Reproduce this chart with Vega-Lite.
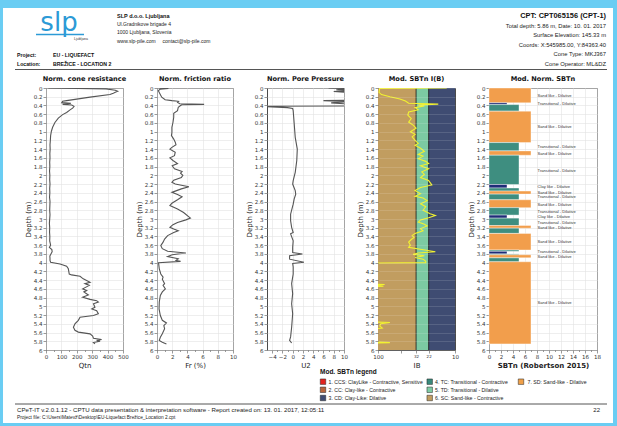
{
"$schema": "https://vega.github.io/schema/vega-lite/v6.json",
"background": "#6acdf3",
"padding": {"left": 3, "top": 4, "right": 4, "bottom": 7},
"spacing": 14,
"bounds": "flush",
"resolve": {"scale": {"color": "independent", "fill": "independent"}},
"config": {
  "font": "DejaVu Sans",
  "view": {"stroke": "#4a4a4a", "strokeWidth": 1},
  "axis": {"labelFontSize": 5.5, "labelColor": "#333", "titleFontSize": 7, "titleFontWeight": "normal", "titleColor": "#222", "gridColor": "#e2e2e2", "gridWidth": 0.6, "tickColor": "#555", "tickSize": 3, "tickWidth": 0.6, "domain": false, "labelPadding": 1, "titlePadding": 2, "labelOverlap": false, "labelFont": "DejaVu Sans", "titleFont": "DejaVu Sans"},
  "axisX": {"labelFlush": false},
  "title": {"fontSize": 6.6, "font": "DejaVu Sans", "fontWeight": "bold", "offset": 3, "color": "#111"}
},
"datasets": {
  "page": [{"px": 3, "px2": 613, "py": 4, "py2": 419}],
  "rules": [{"px": 15, "px2": 607, "py": 65.5}, {"px": 15, "px2": 607, "py": 400}],
  "logoRule": [{"px": 36, "px2": 84, "py": 30.5}],
  "logo": [{"px": 59, "py": 27, "t": "slp"}],
  "logoSub": [{"px": 88, "py": 34.5, "t": "Ljubljana"}],
  "hdrBold": [{"px": 117, "py": 11.7, "t": "SLP d.o.o. Ljubljana"}],
  "hdrAddr": [{"px": 117, "py": 19.5, "t": "Ul.Gradnikove brigade 4"}, {"px": 117, "py": 28.3, "t": "1000 Ljubljana, Slovenia"}, {"px": 117, "py": 36.7, "t": "www.slp-pile.com\u00a0\u00a0\u00a0\u00a0\u00a0contact@slp-pile.com"}],
  "hdrProj": [{"px": 17, "py": 50.5, "t": "Project:"}, {"px": 53, "py": 50.5, "t": "EU - LIQUEFACT"}, {"px": 17, "py": 60, "t": "Location:"}, {"px": 53, "py": 60, "t": "BREŽICE - LOCATION 2"}],
  "hdrCpt": [{"px": 606, "py": 11.7, "t": "CPT: CPT065156 (CPT-1)"}],
  "hdrRight": [{"px": 606, "py": 22, "t": "Total depth: 5.86 m, Date: 10. 01. 2017"}, {"px": 606, "py": 31, "t": "Surface Elevation: 145.33 m"}, {"px": 606, "py": 40.5, "t": "Coords: X:545985.00, Y:84363.40"}, {"px": 606, "py": 50, "t": "Cone Type: MKJ367"}, {"px": 606, "py": 59.5, "t": "Cone Operator: ML&DZ"}],
  "legTitle": [{"px": 320, "py": 367.5, "t": "Mod. SBTn legend"}],
  "legSq": [{"px": 323, "py": 377.7, "c": "1"}, {"px": 323, "py": 385.8, "c": "2"}, {"px": 323, "py": 394, "c": "3"}, {"px": 429.7, "py": 377.7, "c": "4"}, {"px": 429.7, "py": 385.8, "c": "5"}, {"px": 429.7, "py": 394, "c": "6"}, {"px": 521, "py": 377.7, "c": "7"}],
  "legTxt": [{"px": 328.5, "py": 377.7, "t": "1. CCS: ClayLike - Contractive, Sensitive"}, {"px": 328.5, "py": 385.8, "t": "2. CC: Clay-like - Contractive"}, {"px": 328.5, "py": 394, "t": "3. CD: Clay-Like: Dilative"}, {"px": 435, "py": 377.7, "t": "4. TC: Transitional - Contractive"}, {"px": 435, "py": 385.8, "t": "5. TD: Transitional - Dilative"}, {"px": 435, "py": 394, "t": "6. SC: Sand-like - Contractive"}, {"px": 527.5, "py": 377.7, "t": "7. SD: Sand-like - Dilative"}],
  "foot1": [{"px": 17, "py": 405.5, "t": "CPeT-IT v.2.0.1.12 - CPTU data presentation & interpretation software - Report created on: 13. 01. 2017, 12:05:11"}],
  "foot2": [{"px": 17, "py": 413.5, "t": "Project file: C:\\Users\\Matevž\\Desktop\\EU-Liquefact Brežice_Location 2.cpt"}],
  "pageNo": [{"px": 600, "py": 405.5, "t": "22"}],
  "qtn": [{"d":0,"v":15},{"d":0.02,"v":390},{"d":0.05,"v":450},{"d":0.076,"v":466},{"d":0.1,"v":450},{"d":0.12,"v":437},{"d":0.15,"v":415},{"d":0.21,"v":286},{"d":0.29,"v":134},{"d":0.305,"v":108},{"d":0.336,"v":102},{"d":0.351,"v":162},{"d":0.374,"v":108},{"d":0.389,"v":167},{"d":0.42,"v":182},{"d":0.46,"v":173},{"d":0.5,"v":156},{"d":0.56,"v":134},{"d":0.61,"v":108},{"d":0.69,"v":80},{"d":0.79,"v":58},{"d":0.9,"v":43},{"d":0.99,"v":35},{"d":1.09,"v":30},{"d":1.21,"v":28},{"d":1.3,"v":26},{"d":1.4,"v":27},{"d":1.5,"v":25},{"d":1.6,"v":26},{"d":1.7,"v":24},{"d":1.8,"v":25},{"d":1.9,"v":23},{"d":2.0,"v":25},{"d":2.1,"v":24},{"d":2.2,"v":26},{"d":2.3,"v":24},{"d":2.4,"v":25},{"d":2.5,"v":23},{"d":2.6,"v":26},{"d":2.7,"v":25},{"d":2.8,"v":24},{"d":2.9,"v":26},{"d":3.0,"v":24},{"d":3.1,"v":22},{"d":3.2,"v":24},{"d":3.3,"v":23},{"d":3.4,"v":25},{"d":3.5,"v":24},{"d":3.6,"v":30},{"d":3.65,"v":22},{"d":3.7,"v":38},{"d":3.75,"v":40},{"d":3.8,"v":32},{"d":3.85,"v":25},{"d":3.9,"v":26},{"d":3.95,"v":26},{"d":3.99,"v":30},{"d":4.03,"v":91},{"d":4.08,"v":134},{"d":4.14,"v":145},{"d":4.26,"v":151},{"d":4.28,"v":166},{"d":4.31,"v":221},{"d":4.37,"v":242},{"d":4.45,"v":286},{"d":4.48,"v":253},{"d":4.52,"v":281},{"d":4.6,"v":238},{"d":4.64,"v":264},{"d":4.67,"v":246},{"d":4.74,"v":275},{"d":4.79,"v":238},{"d":4.84,"v":286},{"d":4.87,"v":329},{"d":4.9,"v":340},{"d":4.94,"v":308},{"d":5.02,"v":318},{"d":5.06,"v":297},{"d":5.1,"v":329},{"d":5.17,"v":340},{"d":5.21,"v":308},{"d":5.25,"v":221},{"d":5.32,"v":210},{"d":5.4,"v":188},{"d":5.48,"v":178},{"d":5.55,"v":188},{"d":5.59,"v":210},{"d":5.63,"v":286},{"d":5.68,"v":303},{"d":5.73,"v":308},{"d":5.76,"v":361},{"d":5.78,"v":329},{"d":5.8,"v":351},{"d":5.83,"v":308},{"d":5.86,"v":318}],
  "fr": [{"d":0,"v":0.3},{"d":0.01,"v":1.5},{"d":0.03,"v":0.4},{"d":0.06,"v":0.18},{"d":0.14,"v":0.4},{"d":0.21,"v":0.62},{"d":0.27,"v":1.07},{"d":0.29,"v":1.96},{"d":0.305,"v":2.84},{"d":0.33,"v":2.7},{"d":0.36,"v":3.0},{"d":0.375,"v":6.2},{"d":0.385,"v":3.3},{"d":0.4,"v":3.1},{"d":0.44,"v":2.8},{"d":0.52,"v":2.7},{"d":0.58,"v":2.2},{"d":0.67,"v":2.2},{"d":0.79,"v":2.1},{"d":0.9,"v":1.96},{"d":1.02,"v":1.96},{"d":1.09,"v":1.9},{"d":1.17,"v":2.2},{"d":1.24,"v":2.4},{"d":1.3,"v":2.5},{"d":1.36,"v":1.96},{"d":1.4,"v":1.7},{"d":1.47,"v":2.4},{"d":1.55,"v":2.3},{"d":1.6,"v":1.7},{"d":1.66,"v":2.1},{"d":1.73,"v":2.7},{"d":1.78,"v":2.0},{"d":1.85,"v":2.3},{"d":1.91,"v":3.3},{"d":1.95,"v":3.1},{"d":2.0,"v":3.4},{"d":2.05,"v":3.2},{"d":2.11,"v":2.2},{"d":2.16,"v":1.96},{"d":2.2,"v":2.4},{"d":2.26,"v":4.2},{"d":2.31,"v":3.2},{"d":2.39,"v":1.96},{"d":2.44,"v":2.7},{"d":2.49,"v":3.3},{"d":2.56,"v":2.7},{"d":2.64,"v":1.96},{"d":2.69,"v":1.7},{"d":2.77,"v":2.7},{"d":2.85,"v":3.5},{"d":2.95,"v":4.2},{"d":2.98,"v":4.4},{"d":3.02,"v":3.8},{"d":3.08,"v":2.7},{"d":3.13,"v":2.1},{"d":3.19,"v":1.7},{"d":3.23,"v":2.2},{"d":3.27,"v":2.8},{"d":3.31,"v":2.2},{"d":3.38,"v":1.4},{"d":3.46,"v":1.0},{"d":3.53,"v":0.8},{"d":3.61,"v":0.5},{"d":3.68,"v":0.7},{"d":3.74,"v":1.4},{"d":3.78,"v":3.8},{"d":3.82,"v":2.0},{"d":3.86,"v":1.4},{"d":3.91,"v":2.8},{"d":3.95,"v":2.5},{"d":3.97,"v":3.1},{"d":4.0,"v":0.2},{"d":4.14,"v":0.3},{"d":4.26,"v":0.5},{"d":4.33,"v":0.8},{"d":4.38,"v":0.7},{"d":4.48,"v":1.0},{"d":4.52,"v":0.8},{"d":4.6,"v":1.1},{"d":4.67,"v":0.7},{"d":4.75,"v":0.44},{"d":4.9,"v":0.3},{"d":5.06,"v":0.27},{"d":5.21,"v":0.44},{"d":5.32,"v":0.7},{"d":5.38,"v":1.24},{"d":5.44,"v":0.9},{"d":5.51,"v":1.0},{"d":5.63,"v":0.7},{"d":5.71,"v":0.44},{"d":5.78,"v":0.3},{"d":5.82,"v":0.7},{"d":5.86,"v":1.24}],
  "u2": [{"d":0,"v":7},{"d":0.015,"v":11},{"d":0.04,"v":8.5},{"d":0.06,"v":11},{"d":0.08,"v":8},{"d":0.1,"v":11},{"d":0.28,"v":11},{"d":0.29,"v":6},{"d":0.31,"v":11},{"d":0.34,"v":7.5},{"d":0.37,"v":11},{"d":0.41,"v":11},{"d":0.42,"v":-6},{"d":0.45,"v":-1},{"d":0.47,"v":0},{"d":0.52,"v":0.1},{"d":0.82,"v":0.3},{"d":1.13,"v":0.5},{"d":1.4,"v":0.9},{"d":1.66,"v":0.8},{"d":1.93,"v":0.5},{"d":2.12,"v":0.1},{"d":2.2,"v":0},{"d":2.35,"v":0.5},{"d":2.43,"v":0.6},{"d":2.54,"v":0.3},{"d":2.66,"v":0.1},{"d":2.89,"v":-0.4},{"d":3.04,"v":-0.4},{"d":3.19,"v":-0.2},{"d":3.31,"v":0.1},{"d":3.34,"v":-0.4},{"d":3.5,"v":0.1},{"d":3.65,"v":0},{"d":3.77,"v":0},{"d":3.8,"v":1.9},{"d":3.84,"v":-0.6},{"d":3.92,"v":-0.6},{"d":3.99,"v":2.2},{"d":4.02,"v":0},{"d":4.1,"v":0.1},{"d":4.26,"v":0.1},{"d":4.48,"v":-0.2},{"d":4.71,"v":0},{"d":4.94,"v":-0.2},{"d":5.17,"v":0},{"d":5.48,"v":-0.2},{"d":5.7,"v":-0.4},{"d":5.78,"v":-0.6},{"d":5.84,"v":-0.2}],
  "ib": [{"d":0,"v":12.8},{"d":0.01,"v":95},{"d":0.1,"v":97},{"d":0.15,"v":90},{"d":0.2,"v":70},{"d":0.25,"v":52},{"d":0.3,"v":44},{"d":0.35,"v":40},{"d":0.37,"v":16.5},{"d":0.39,"v":30},{"d":0.41,"v":25},{"d":0.45,"v":33},{"d":0.5,"v":30},{"d":0.55,"v":40},{"d":0.62,"v":41},{"d":0.7,"v":37},{"d":0.78,"v":40},{"d":0.85,"v":35},{"d":0.92,"v":32},{"d":1.0,"v":38},{"d":1.06,"v":33},{"d":1.12,"v":36},{"d":1.2,"v":33},{"d":1.27,"v":30},{"d":1.31,"v":33},{"d":1.38,"v":28},{"d":1.45,"v":25},{"d":1.52,"v":30},{"d":1.56,"v":26},{"d":1.62,"v":30},{"d":1.68,"v":24},{"d":1.73,"v":22},{"d":1.78,"v":28},{"d":1.85,"v":22},{"d":1.92,"v":27},{"d":1.98,"v":25},{"d":2.05,"v":28},{"d":2.12,"v":22},{"d":2.22,"v":20},{"d":2.28,"v":28},{"d":2.35,"v":33},{"d":2.42,"v":28},{"d":2.48,"v":33},{"d":2.52,"v":26},{"d":2.58,"v":23},{"d":2.65,"v":28},{"d":2.72,"v":24},{"d":2.8,"v":26},{"d":2.88,"v":21},{"d":2.92,"v":18},{"d":2.97,"v":22},{"d":3.02,"v":28},{"d":3.07,"v":30},{"d":3.12,"v":25},{"d":3.16,"v":23},{"d":3.22,"v":28},{"d":3.27,"v":26},{"d":3.33,"v":33},{"d":3.38,"v":36},{"d":3.42,"v":34},{"d":3.47,"v":37},{"d":3.53,"v":40},{"d":3.6,"v":38},{"d":3.65,"v":40},{"d":3.7,"v":27},{"d":3.75,"v":18},{"d":3.78,"v":30},{"d":3.81,"v":35},{"d":3.84,"v":25},{"d":3.88,"v":33},{"d":3.92,"v":26},{"d":3.97,"v":24},{"d":4.0,"v":24},{"d":4.01,"v":150},{"d":4.48,"v":150},{"d":4.5,"v":82},{"d":4.52,"v":120},{"d":4.54,"v":85},{"d":4.56,"v":150},{"d":5.35,"v":150},{"d":5.37,"v":70},{"d":5.4,"v":92},{"d":5.45,"v":95},{"d":5.5,"v":88},{"d":5.53,"v":150},{"d":5.81,"v":150},{"d":5.83,"v":70},{"d":5.85,"v":150}],
  "zones": [{"v": 100, "v2": 32, "z": "SC"}, {"v": 32, "v2": 22, "z": "TD"}, {"v": 22, "v2": 10, "z": "CD"}],
  "bounds": [{"v": 32}, {"v": 22}],
  "sbt": [{"d0":0,"d1":0.34,"v":7,"z":"SD"},{"d0":0.34,"d1":0.38,"v":3,"z":"CD"},{"d0":0.38,"d1":0.53,"v":5,"z":"TD"},{"d0":0.53,"d1":1.25,"v":7,"z":"SD"},{"d0":1.25,"d1":1.44,"v":5,"z":"TD"},{"d0":1.44,"d1":1.54,"v":7,"z":"SD"},{"d0":1.54,"d1":2.21,"v":5,"z":"TD"},{"d0":2.21,"d1":2.29,"v":3,"z":"CD"},{"d0":2.29,"d1":2.36,"v":5,"z":"TD"},{"d0":2.36,"d1":2.43,"v":7,"z":"SD"},{"d0":2.43,"d1":2.56,"v":5,"z":"TD"},{"d0":2.56,"d1":2.74,"v":7,"z":"SD"},{"d0":2.74,"d1":2.91,"v":5,"z":"TD"},{"d0":2.91,"d1":2.98,"v":3,"z":"CD"},{"d0":2.98,"d1":3.15,"v":5,"z":"TD"},{"d0":3.15,"d1":3.21,"v":7,"z":"SD"},{"d0":3.21,"d1":3.33,"v":5,"z":"TD"},{"d0":3.33,"d1":3.71,"v":7,"z":"SD"},{"d0":3.71,"d1":3.74,"v":5,"z":"TD"},{"d0":3.74,"d1":3.8,"v":3,"z":"CD"},{"d0":3.8,"d1":3.82,"v":5,"z":"TD"},{"d0":3.82,"d1":3.89,"v":7,"z":"SD"},{"d0":3.89,"d1":3.98,"v":5,"z":"TD"},{"d0":3.98,"d1":5.86,"v":7,"z":"SD"}],
  "sbtLab": [{"d0":0.19,"t":"Sand like - Dilative"},{"d0":0.37,"t":"Transitional - Dilative"},{"d0":0.9,"t":"Sand like - Dilative"},{"d0":1.36,"t":"Transitional - Dilative"},{"d0":1.5,"t":"Sand like - Dilative"},{"d0":1.9,"t":"Transitional - Dilative"},{"d0":2.27,"t":"Clay like - Dilative"},{"d0":2.4,"t":"Sand like - Dilative"},{"d0":2.5,"t":"Transitional - Dilative"},{"d0":2.67,"t":"Sand like - Dilative"},{"d0":2.83,"t":"Transitional - Dilative"},{"d0":2.95,"t":"Clay like - Dilative"},{"d0":3.09,"t":"Transitional - Dilative"},{"d0":3.2,"t":"Sand like - Dilative"},{"d0":3.53,"t":"Sand like - Dilative"},{"d0":3.75,"t":"Transitional - Dilative"},{"d0":3.88,"t":"Sand like - Dilative"},{"d0":4.93,"t":"Sand like - Dilative"}]
},
"vconcat": [
  {
    "width": 551, "height": 70,
    "view": {"stroke": null},
    "encoding": {
      "x": {"field": "px", "type": "quantitative", "scale": {"domain": [46, 597], "nice": false, "zero": false}, "axis": null},
      "y": {"field": "py", "type": "quantitative", "scale": {"domain": [0, 70], "nice": false, "zero": false, "reverse": true}, "axis": null}
    },
    "layer": [
      {"data": {"name": "page"}, "mark": {"type": "rect", "fill": "white"}, "encoding": {"x2": {"field": "px2"}, "y2": {"field": "py2"}}},
      {"data": {"name": "rules"}, "mark": {"type": "rule", "color": "#555", "strokeWidth": 1}, "encoding": {"x2": {"field": "px2"}}},
      {"data": {"name": "logoRule"}, "mark": {"type": "rule", "color": "#2c9ad6", "strokeWidth": 1.5}, "encoding": {"x2": {"field": "px2"}}},
      {"data": {"name": "logo"}, "mark": {"type": "text", "align": "center", "baseline": "alphabetic", "font": "DejaVu Sans", "fontSize": 26, "color": "#2c9ad6"}, "encoding": {"text": {"field": "t"}}},
      {"data": {"name": "logoSub"}, "mark": {"type": "text", "align": "right", "baseline": "middle", "font": "Liberation Sans", "fontSize": 3.5, "color": "#333"}, "encoding": {"text": {"field": "t"}}},
      {"data": {"name": "hdrBold"}, "mark": {"type": "text", "align": "left", "baseline": "middle", "font": "Liberation Sans", "fontSize": 5.5, "fontWeight": "bold", "color": "#111"}, "encoding": {"text": {"field": "t"}}},
      {"data": {"name": "hdrAddr"}, "mark": {"type": "text", "align": "left", "baseline": "middle", "font": "Liberation Sans", "fontSize": 5, "color": "#222"}, "encoding": {"text": {"field": "t"}}},
      {"data": {"name": "hdrProj"}, "mark": {"type": "text", "align": "left", "baseline": "middle", "font": "Liberation Sans", "fontSize": 5.2, "fontWeight": "bold", "color": "#111"}, "encoding": {"text": {"field": "t"}}},
      {"data": {"name": "hdrCpt"}, "mark": {"type": "text", "align": "right", "baseline": "middle", "font": "Liberation Sans", "fontSize": 7.4, "fontWeight": "bold", "color": "#111"}, "encoding": {"text": {"field": "t"}}},
      {"data": {"name": "hdrRight"}, "mark": {"type": "text", "align": "right", "baseline": "middle", "font": "Liberation Sans", "fontSize": 5.8, "color": "#222"}, "encoding": {"text": {"field": "t"}}},
      {"data": {"name": "legTitle"}, "mark": {"type": "text", "align": "left", "baseline": "middle", "font": "Liberation Sans", "fontSize": 6.5, "fontWeight": "bold", "color": "#111"}, "encoding": {"text": {"field": "t"}}},
      {"data": {"name": "legSq"}, "mark": {"type": "square", "size": 30, "opacity": 1, "stroke": "#222", "strokeWidth": 0.5}, "encoding": {"fill": {"field": "c", "type": "nominal", "scale": {"domain": ["1","2","3","4","5","6","7"], "range": ["#e3231d", "#b8643a", "#3f4c72", "#3a8a7c", "#7fcca5", "#c19d60", "#f0a048"]}, "legend": null}}},
      {"data": {"name": "legTxt"}, "mark": {"type": "text", "align": "left", "baseline": "middle", "font": "Liberation Sans", "fontSize": 5.2, "color": "#222"}, "encoding": {"text": {"field": "t"}}},
      {"data": {"name": "foot1"}, "mark": {"type": "text", "align": "left", "baseline": "middle", "font": "Liberation Sans", "fontSize": 6.1, "color": "#222"}, "encoding": {"text": {"field": "t"}}},
      {"data": {"name": "foot2"}, "mark": {"type": "text", "align": "left", "baseline": "middle", "font": "Liberation Sans", "fontSize": 4.8, "color": "#222"}, "encoding": {"text": {"field": "t"}}},
      {"data": {"name": "pageNo"}, "mark": {"type": "text", "align": "right", "baseline": "middle", "font": "Liberation Sans", "fontSize": 6, "color": "#222"}, "encoding": {"text": {"field": "t"}}}
    ]
  },
  {
    "bounds": "flush",
    "spacing": 34,
    "resolve": {"scale": {"color": "independent"}},
    "hconcat": [
      {
        "title": "Norm. cone resistance",
        "width": 77, "height": 262,
        "data": {"name": "qtn"},
        "mark": {"type": "line", "color": "#555", "strokeWidth": 1.1, "clip": true},
        "encoding": {
          "x": {"field": "v", "type": "quantitative", "scale": {"domain": [0, 500], "nice": false}, "axis": {"title": "Qtn", "values": [0,50,100,150,200,250,300,350,400,450,500], "labelExpr": "datum.value % 100 === 0 ? datum.label : ''", "gridOpacity": {"condition": {"test": "datum.value % 100 !== 0", "value": 0}, "value": 1}, "tickSize": {"condition": {"test": "datum.value % 100 !== 0", "value": 1.5}, "value": 3}}},
          "y": {"field": "d", "type": "quantitative", "scale": {"domain": [0, 6], "reverse": true, "nice": false, "zero": false}, "axis": {"title": "Depth (m)", "values": [0,0.2,0.4,0.6,0.8,1,1.2,1.4,1.6,1.8,2,2.2,2.4,2.6,2.8,3,3.2,3.4,3.6,3.8,4,4.2,4.4,4.6,4.8,5,5.2,5.4,5.6,5.8,6], "format": "~g"}},
          "order": {"field": "d", "type": "quantitative"}
        }
      },
      {
        "title": "Norm. friction ratio",
        "width": 76, "height": 262,
        "data": {"name": "fr"},
        "mark": {"type": "line", "color": "#555", "strokeWidth": 1.1, "clip": true},
        "encoding": {
          "x": {"field": "v", "type": "quantitative", "scale": {"domain": [0, 10], "nice": false}, "axis": {"title": "Fr (%)", "values": [0,1,2,3,4,5,6,7,8,9,10], "labelExpr": "datum.value % 2 === 0 ? datum.label : ''", "gridOpacity": {"condition": {"test": "datum.value % 2 !== 0", "value": 0}, "value": 1}, "tickSize": {"condition": {"test": "datum.value % 2 !== 0", "value": 1.5}, "value": 3}}},
          "y": {"field": "d", "type": "quantitative", "scale": {"domain": [0, 6], "reverse": true, "nice": false, "zero": false}, "axis": {"title": "Depth (m)", "values": [0,0.2,0.4,0.6,0.8,1,1.2,1.4,1.6,1.8,2,2.2,2.4,2.6,2.8,3,3.2,3.4,3.6,3.8,4,4.2,4.4,4.6,4.8,5,5.2,5.4,5.6,5.8,6], "format": "~g"}},
          "order": {"field": "d", "type": "quantitative"}
        }
      },
      {
        "title": "Norm. Pore Pressure",
        "width": 77, "height": 262,
        "data": {"name": "u2"},
        "mark": {"type": "line", "color": "#555", "strokeWidth": 1.1, "clip": true},
        "encoding": {
          "x": {"field": "v", "type": "quantitative", "scale": {"domain": [-5, 10], "nice": false, "zero": false}, "axis": {"title": "U2", "values": [-4,-3,-2,-1,0,1,2,3,4,5,6,7,8,9,10], "labelExpr": "datum.value % 2 === 0 ? datum.label : ''", "gridOpacity": {"condition": {"test": "datum.value % 2 !== 0", "value": 0}, "value": 1}, "tickSize": {"condition": {"test": "datum.value % 2 !== 0", "value": 1.5}, "value": 3}}},
          "y": {"field": "d", "type": "quantitative", "scale": {"domain": [0, 6], "reverse": true, "nice": false, "zero": false}, "axis": {"title": "Depth (m)", "values": [0,0.2,0.4,0.6,0.8,1,1.2,1.4,1.6,1.8,2,2.2,2.4,2.6,2.8,3,3.2,3.4,3.6,3.8,4,4.2,4.4,4.6,4.8,5,5.2,5.4,5.6,5.8,6], "format": "~g"}},
          "order": {"field": "d", "type": "quantitative"}
        }
      },
      {
        "title": "Mod. SBTn I(B)",
        "width": 77, "height": 262,
        "encoding": {
          "x": {"field": "v", "type": "quantitative", "scale": {"type": "log", "domain": [10, 100], "reverse": true, "nice": false}, "axis": {"title": "IB", "grid": false, "values": [100, 50, 32, 22, 10], "labelExpr": "datum.value === 50 ? '' : format(datum.value, 'd')", "labelFontSize": {"condition": {"test": "datum.value === 32 || datum.value === 22", "value": 4}, "value": 5.5}}}
        },
        "layer": [
          {"data": {"name": "zones"}, "mark": {"type": "rect"}, "encoding": {"x2": {"field": "v2"}, "color": {"field": "z", "type": "nominal", "scale": {"domain": ["SC", "TD", "CD"], "range": ["#c19d60", "#7ccaa2", "#3f4c72"]}, "legend": null}}},
          {"data": {"name": "bounds"}, "mark": {"type": "rule", "color": "#111", "strokeWidth": 0.8}, "encoding": {}},
          {"data": {"name": "ib"}, "mark": {"type": "line", "color": "#f2f230", "strokeWidth": 1.1, "clip": true},
           "encoding": {
             "y": {"field": "d", "type": "quantitative", "scale": {"domain": [0, 6], "reverse": true, "nice": false, "zero": false}, "axis": {"title": "Depth (m)", "values": [0,0.2,0.4,0.6,0.8,1,1.2,1.4,1.6,1.8,2,2.2,2.4,2.6,2.8,3,3.2,3.4,3.6,3.8,4,4.2,4.4,4.6,4.8,5,5.2,5.4,5.6,5.8,6], "format": "~g", "zindex": 1, "gridColor": "#ffffff", "gridOpacity": 0.22}},
             "order": {"field": "d", "type": "quantitative"}
           }}
        ]
      },
      {
        "title": "Mod. Norm. SBTn",
        "width": 108, "height": 262,
        "encoding": {
          "y": {"field": "d0", "type": "quantitative", "scale": {"domain": [0, 6], "reverse": true, "nice": false, "zero": false}, "axis": {"title": "Depth (m)", "values": [0,0.2,0.4,0.6,0.8,1,1.2,1.4,1.6,1.8,2,2.2,2.4,2.6,2.8,3,3.2,3.4,3.6,3.8,4,4.2,4.4,4.6,4.8,5,5.2,5.4,5.6,5.8,6], "format": "~g"}}
        },
        "layer": [
          {"data": {"name": "sbt"}, "mark": {"type": "rect", "stroke": "white", "strokeWidth": 0.4},
           "encoding": {
             "x": {"field": "v", "type": "quantitative", "scale": {"domain": [0, 18], "nice": false}, "axis": {"title": "SBTn (Robertson 2015)", "titleFontWeight": "bold", "values": [0,1,2,3,4,5,6,7,8,9,10,11,12,13,14,15,16,17,18], "labelExpr": "datum.value % 2 === 0 ? datum.label : ''", "gridOpacity": {"condition": {"test": "datum.value % 2 !== 0", "value": 0}, "value": 1}, "tickSize": {"condition": {"test": "datum.value % 2 !== 0", "value": 1.5}, "value": 3}}},
             "x2": {"datum": 0},
             "y2": {"field": "d1"},
             "color": {"field": "z", "type": "nominal", "scale": {"domain": ["SD", "TD", "CD"], "range": ["#f29e4c", "#3e8e80", "#1f2c78"]}, "legend": null}
           }},
          {"data": {"name": "sbtLab"}, "mark": {"type": "text", "align": "left", "baseline": "middle", "font": "Liberation Sans", "fontSize": 4.1, "color": "#333"},
           "encoding": {
             "x": {"datum": 8.1, "type": "quantitative", "scale": {"domain": [0, 18], "nice": false}, "axis": {"title": "SBTn (Robertson 2015)", "titleFontWeight": "bold", "values": [0,1,2,3,4,5,6,7,8,9,10,11,12,13,14,15,16,17,18], "labelExpr": "datum.value % 2 === 0 ? datum.label : ''", "gridOpacity": {"condition": {"test": "datum.value % 2 !== 0", "value": 0}, "value": 1}, "tickSize": {"condition": {"test": "datum.value % 2 !== 0", "value": 1.5}, "value": 3}}},
             "text": {"field": "t"}
           }}
        ]
      }
    ]
  }
]
}
